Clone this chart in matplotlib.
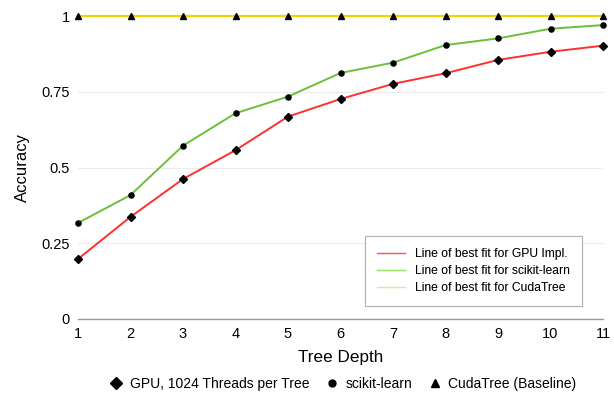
import matplotlib
matplotlib.use("Agg")
import matplotlib.pyplot as plt
from matplotlib.lines import Line2D

plt.rcParams['font.family'] = ['Liberation Sans', 'DejaVu Sans']

depth = [1, 2, 3, 4, 5, 6, 7, 8, 9, 10, 11]
gpu = [0.198, 0.337, 0.462, 0.557, 0.668, 0.726, 0.776, 0.811, 0.855, 0.882, 0.902]
sklearn = [0.317, 0.409, 0.572, 0.679, 0.734, 0.812, 0.846, 0.904, 0.926, 0.958, 0.970]
cudatree = [1, 1, 1, 1, 1, 1, 1, 1, 1, 1, 1]
yticks = [0, 0.25, 0.5, 0.75, 1]
ytick_labels = ["0", "0.25", "0.5", "0.75", "1"]

fig = plt.figure(figsize=(6.14, 3.99), dpi=100)
ax = fig.add_axes([78/614, 1-319/399, (603-78)/614, (319-16)/399])

c_red = '#ff3030'
c_green = '#6cbf3a'
c_yellow = '#f7d200'

ax.plot(depth, cudatree, color=c_yellow, lw=1.6, zorder=3, clip_on=False)
ax.plot(depth, sklearn, color=c_green, lw=1.4, zorder=3, clip_on=False)
ax.plot(depth, gpu, color=c_red, lw=1.4, zorder=3, clip_on=False)

m1, = ax.plot(depth, gpu, ls='none', marker='D', ms=4.5, color='black', zorder=4, clip_on=False,
              label='GPU, 1024 Threads per Tree')
m2, = ax.plot(depth, sklearn, ls='none', marker='o', ms=3.7, color='black', zorder=4, clip_on=False,
              label='scikit-learn')
m3, = ax.plot(depth, cudatree, ls='none', marker='^', ms=4.3, color='black', zorder=4, clip_on=False,
              label='CudaTree (Baseline)')

ax.set_xlim(1, 11)
ax.set_ylim(0, 1)
ax.set_xticks(depth)
ax.set_yticks(yticks)
ax.set_yticklabels(ytick_labels)
ax.tick_params(length=0, labelsize=10.5, pad=6)
ax.grid(axis='y', color='#ebebeb', lw=0.8)
ax.set_axisbelow(True)
for s in ['top', 'right', 'left']:
    ax.spines[s].set_visible(False)
ax.spines['bottom'].set_color('#999999')
ax.spines['bottom'].set_linewidth(1.0)

ax.set_xlabel('Tree Depth', fontsize=12.3, labelpad=6)
ax.set_ylabel('Accuracy', fontsize=12, labelpad=8)

fit_handles = [Line2D([], [], color='#f55a5a', lw=1),
               Line2D([], [], color='#9ee066', lw=1),
               Line2D([], [], color='#f0dca8', lw=1)]
leg2 = ax.legend(fit_handles,
                 ['Line of best fit for GPU Impl.', 'Line of best fit for scikit-learn',
                  'Line of best fit for CudaTree'],
                 loc='upper left', bbox_to_anchor=((365-78)/525, (319-236)/303),
                 borderaxespad=0,
                 fontsize=8.7, frameon=True, fancybox=False, edgecolor='#aaaaaa',
                 handlelength=2.3, handletextpad=0.8, borderpad=1.0, labelspacing=0.42)
leg2.get_frame().set_linewidth(0.8)
ax.add_artist(leg2)

fig.legend(handles=[m1, m2, m3], loc='center', bbox_to_anchor=(343.5/614, 1-384/399), ncol=3,
           frameon=False, fontsize=10, handlelength=0.8, handletextpad=0.6, columnspacing=1.2,
           markerscale=1.35, borderaxespad=0, borderpad=0)

fig.savefig('out.png', dpi=100)
